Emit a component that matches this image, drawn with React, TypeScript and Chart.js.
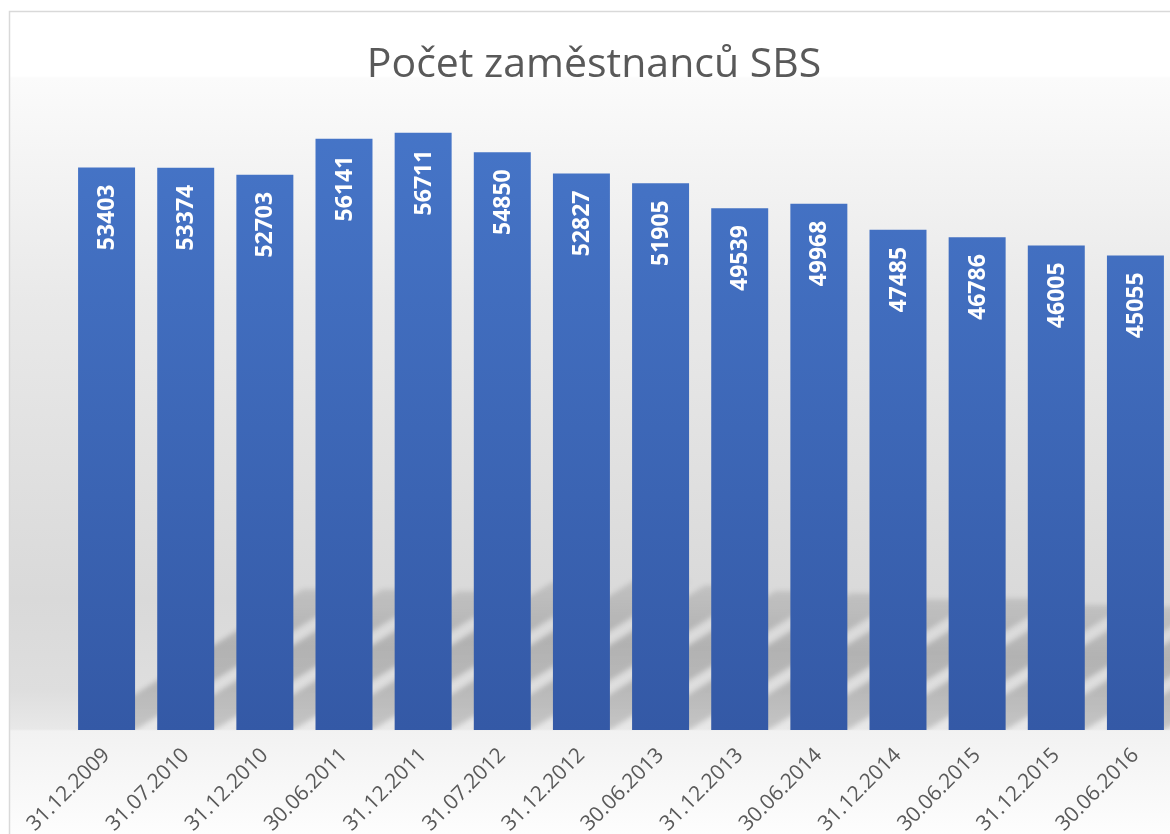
import React, { useEffect, useRef } from "react";
import { Chart, registerables } from "chart.js";

Chart.register(...registerables);

const TITLE = "Počet zaměstnanců SBS";
const categories = [
  "31.12.2009", "31.07.2010", "31.12.2010", "30.06.2011", "31.12.2011",
  "31.07.2012", "31.12.2012", "30.06.2013", "31.12.2013", "30.06.2014",
  "31.12.2014", "30.06.2015", "31.12.2015", "30.06.2016",
];
const employees = [
  53403, 53374, 52703, 56141, 56711, 54850, 52827, 51905, 49539, 49968,
  47485, 46786, 46005, 45055,
];

const W = 1180;
const H = 834;

const decorPlugin = {
  id: "decor",
  beforeDraw(chart: any) {
    const ctx = chart.ctx;
    ctx.save();
    ctx.fillStyle = "#ffffff";
    ctx.fillRect(0, 0, W, H);
    const g = ctx.createLinearGradient(0, 12, 0, H);
    const s = (y: number) => Math.min(1, Math.max(0, (y - 12) / (H - 12)));
    g.addColorStop(0, "#ffffff");
    g.addColorStop(s(76), "#ffffff");
    g.addColorStop(s(78), "#fbfbfb");
    g.addColorStop(s(300), "#e9e9e9");
    g.addColorStop(s(600), "#d9d9d9");
    g.addColorStop(s(690), "#dedede");
    g.addColorStop(s(729), "#e8e8e8");
    g.addColorStop(s(731), "#f2f2f2");
    g.addColorStop(1, "#fdfdfd");
    ctx.fillStyle = g;
    ctx.fillRect(10, 12, W, H);
    ctx.strokeStyle = "#d9d9d9";
    ctx.lineWidth = 1.5;
    ctx.strokeRect(9.5, 11.5, W + 50, H + 50);
    // title
    ctx.fillStyle = "#595959";
    ctx.font = "41px 'Open Sans'";
    ctx.textAlign = "center";
    ctx.textBaseline = "alphabetic";
    ctx.fillText(TITLE, 594, 77);
    ctx.restore();
  },
  beforeDatasetsDraw(chart: any) {
    const ctx = chart.ctx;
    const area = chart.chartArea;
    const meta = chart.getDatasetMeta(0);
    ctx.save();
    ctx.beginPath();
    ctx.rect(area.left, area.top, area.right - area.left, area.bottom - area.top);
    ctx.clip();
    ctx.filter = "blur(2.5px)";
    meta.data.forEach((bar: any) => {
      const w = bar.width;
      const l = bar.x - w / 2;
      const r = bar.x + w / 2;
      const base = bar.base;
      const h = (base - bar.y) * 0.25;
      const dx = h * 1.6;
      const sg = ctx.createLinearGradient(0, base, 0, base - h);
      sg.addColorStop(0, "rgba(0,0,0,0.15)");
      sg.addColorStop(0.6, "rgba(0,0,0,0.19)");
      sg.addColorStop(1, "rgba(0,0,0,0.11)");
      ctx.fillStyle = sg;
      ctx.beginPath();
      ctx.moveTo(l, base);
      ctx.lineTo(r, base);
      ctx.lineTo(r + dx, base - h);
      ctx.lineTo(l + dx, base - h);
      ctx.closePath();
      ctx.fill();
    });
    ctx.restore();
  },
  afterDatasetsDraw(chart: any) {
    const ctx = chart.ctx;
    const meta = chart.getDatasetMeta(0);
    ctx.save();
    ctx.fillStyle = "#ffffff";
    ctx.font = "bold 23px 'Open Sans'";
    ctx.textAlign = "right";
    ctx.textBaseline = "middle";
    meta.data.forEach((bar: any, i: number) => {
      ctx.save();
      ctx.translate(bar.x, bar.y + 17);
      ctx.rotate(-Math.PI / 2);
      ctx.fillText(String(employees[i]), 0, 1);
      ctx.restore();
    });
    ctx.restore();
  },
};

export default function App() {
  const ref = useRef<HTMLCanvasElement>(null);
  useEffect(() => {
    document.body.style.margin = "0";
    const canvas = ref.current!;
    const ctx = canvas.getContext("2d")!;
    const grad = ctx.createLinearGradient(0, 98, 0, 730);
    grad.addColorStop(0, "#4676c9");
    grad.addColorStop(0.15, "#4472c4");
    grad.addColorStop(1, "#3459a6");
    const chart = new Chart(canvas, {
      type: "bar",
      data: {
        labels: categories,
        datasets: [
          {
            label: TITLE,
            data: employees,
            backgroundColor: grad,
            borderWidth: 0,
            categoryPercentage: 1,
            barPercentage: 0.72,
          },
        ],
      },
      options: {
        responsive: false,
        animation: false,
        layout: { padding: { left: 67, right: 5, top: 98, bottom: 0 } },
        plugins: {
          legend: { display: false },
          title: { display: false },
          tooltip: { enabled: false },
        },
        scales: {
          x: {
            grid: { display: false, drawTicks: false },
            border: { display: false },
            afterFit: (scale: any) => {
              scale.height = 104;
            },
            ticks: {
              autoSkip: false,
              minRotation: 45,
              maxRotation: 45,
              padding: 13,
              color: "#595959",
              font: { family: "'Open Sans'", size: 21 },
            },
          },
          y: {
            display: false,
            min: 0,
            max: 60000,
          },
        },
      },
      plugins: [decorPlugin],
    });
    return () => chart.destroy();
  }, []);
  return (
    <div
      style={{
        position: "fixed",
        left: 0,
        top: 0,
        width: 1170,
        height: 834,
        overflow: "hidden",
        background: "#fff",
      }}
    >
      <canvas ref={ref} width={W} height={H} style={{ width: W, height: H, display: "block" }} />
    </div>
  );
}
